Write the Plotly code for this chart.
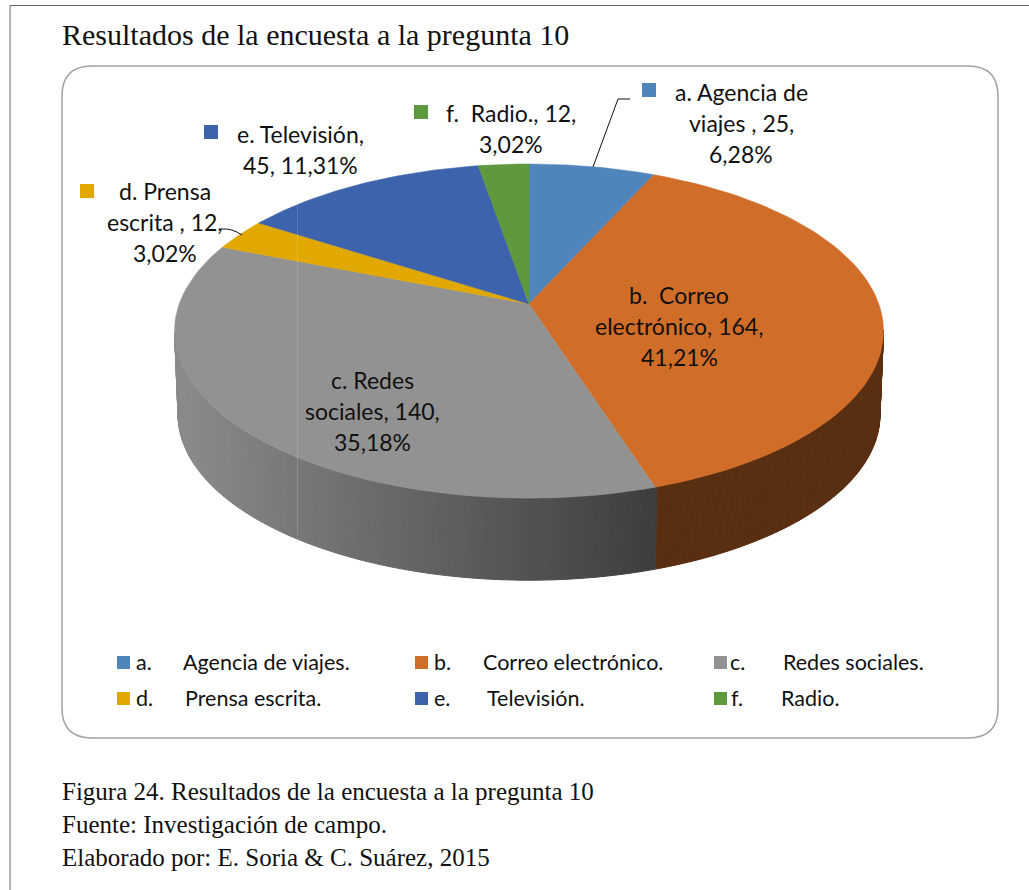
import numpy as np
import plotly.graph_objects as go

# data
categories = ["a", "b", "c", "d", "e", "f"]
values = [25, 164, 140, 12, 45, 12]
colors = ["#4F85BB", "#D06D28", "#929292", "#E0A800", "#3C63AB", "#5F993E"]

title = "Resultados de la encuesta a la pregunta 10"
caption = ["Figura 24. Resultados de la encuesta a la pregunta 10",
           "Fuente: Investigación de campo.",
           "Elaborado por: E. Soria & C. Suárez, 2015"]

# label lines, the number and percent get filled in from values
data_labels = [["a. Agencia de", "viajes , {v},", "{p}%"],
               ["b.  Correo", "electrónico, {v},", "{p}%"],
               ["c. Redes", "sociales, {v},", "{p}%"],
               ["d. Prensa", "escrita , {v},", "{p}%"],
               ["e. Televisión,", "{v}, {p}%"],
               ["f.  Radio., {v},", "{p}%"]]
legend_keys = ["a.", "b.", "c.", "d.", "e.", "f."]
legend_names = ["Agencia de viajes.", "Correo electrónico.", "Redes sociales.",
                "Prensa escrita.", "Televisión.", "Radio."]

# placement (pixels, the axes are 1:1 with the page)
label_centers = [(741, 92), (679, 295), (372, 380), (165, 191), (300, 134), (511, 113)]
label_steps = 31
label_swatches = [(649, 90), None, None, (87, 191), (211, 132), (421, 112)]
legend_swatch_x = [123.5, 421.5, 720.5, 123.5, 421.5, 720.5]
legend_key_x = [134, 432, 728, 134, 432, 729]
legend_name_x = [181, 481, 781, 183, 485, 779]
legend_y = [661.5, 661.5, 661.5, 697.5, 697.5, 697.5]

SANS = "Lato"
SERIF = "Liberation Serif"

# tilted-disc projection of the pie
CX, CY = 529.0, 304.0
A, B, K = 349.8, 162.7, 0.162
DEPTH, SHRINK = 84.0, 0.99

# the drawn 3d pie does not keep angles exactly, correction in degrees
warp_at = [0, 23, 171, 297, 308, 349, 360]
warp_by = [0, 1.6, -8.7, -5.9, -5.7, 1.2, 0]


def warp(theta):
    return theta + np.interp(theta, warp_at, warp_by)


def project(phi, lower=False):
    t = np.radians(phi)
    u, v = np.sin(t), np.cos(t)
    w = 1 + K * v
    s = SHRINK if lower else 1.0
    d = DEPTH if lower else 0.0
    return CX + s * A * u / w, CY + d - s * B * v / w


def shade(hex_color, f):
    rgb = [int(hex_color[i:i + 2], 16) for i in (1, 3, 5)]
    return "rgb({},{},{})".format(*[int(c * f) for c in rgb])


total = sum(values)
percents = [f"{v / total * 100:.2f}".replace(".", ",") for v in values]
cum = np.cumsum([0] + values) / total * 360
edges = warp(cum)

fig = go.Figure()

# side of the disc, thin strips for the gradient
grid = np.arange(99.0, 261.0, 0.75)
for p0, p1 in zip(grid[:-1], grid[1:]):
    mid = (p0 + p1) / 2
    idx = int(np.searchsorted(edges, mid)) - 1
    arc = np.array([p0, p1])
    xt, yt = project(arc)
    xb, yb = project(arc, lower=True)
    xm = project(mid)[0]
    col = shade(colors[idx], np.interp(xm, [180, 650], [0.95, 0.43]))
    fig.add_trace(go.Scatter(x=[xt[0], xt[1], xb[1], xb[0], xt[0]],
                             y=[yt[0], yt[1], yb[1], yb[0], yt[0]],
                             mode="lines", fill="toself", fillcolor=col,
                             line=dict(color=col, width=1),
                             hoverinfo="skip", showlegend=False))

# top face
for i, cat in enumerate(categories):
    arc = np.linspace(edges[i], edges[i + 1], 80)
    xs, ys = project(arc)
    fig.add_trace(go.Scatter(x=np.r_[CX, xs, CX], y=np.r_[CY, ys, CY],
                             mode="lines", fill="toself", fillcolor=colors[i],
                             line=dict(color=colors[i], width=0.5),
                             name=legend_names[i], hoverinfo="skip", showlegend=False))

# swatches, both for the data labels and the legend
for i, pos in enumerate(label_swatches):
    if pos is not None:
        fig.add_trace(go.Scatter(x=[pos[0]], y=[pos[1]], mode="markers",
                                 marker=dict(symbol="square", size=14, color=colors[i]),
                                 hoverinfo="skip", showlegend=False))
    fig.add_trace(go.Scatter(x=[legend_swatch_x[i]], y=[legend_y[i] + 1], mode="markers",
                             marker=dict(symbol="square", size=13, color=colors[i]),
                             hoverinfo="skip", showlegend=False))

annotations = []


def put(text, x, y, size, family, anchor="center", color="#111111"):
    annotations.append(dict(text=text, x=x, y=y, xref="x", yref="y", showarrow=False,
                            xanchor=anchor, yanchor="middle",
                            font=dict(size=size, family=family, color=color)))


put(title, 60, 34, 30, SERIF, "left")
for line, y in zip(caption, [791, 824, 857]):
    put(line, 60, y, 25, SERIF, "left")

for i, lines in enumerate(data_labels):
    cx, cy = label_centers[i]
    for j, line in enumerate(lines):
        put(line.format(v=values[i], p=percents[i]), cx, cy + j * label_steps, 23, SANS)

for i in range(len(categories)):
    put(legend_keys[i], legend_key_x[i], legend_y[i], 21.5, SANS, "left")
    put(legend_names[i], legend_name_x[i], legend_y[i], 21.5, SANS, "left")

shapes = [
    # page frame
    dict(type="line", x0=10, x1=1029, y0=5.5, y1=5.5, line=dict(color="#666666", width=1)),
    dict(type="line", x0=10, x1=10, y0=5.5, y1=890, line=dict(color="#666666", width=1)),
    # rounded chart area
    dict(type="path", path="M 92 66 L 968 66 Q 998 66 998 96 L 998 708 Q 998 738 968 738 "
                           "L 92 738 Q 62 738 62 708 L 62 96 Q 62 66 92 66 Z",
         line=dict(color="#A3A3A3", width=1.5), fillcolor="rgba(0,0,0,0)", layer="below"),
    # leader lines
    dict(type="path", path="M 630 99 L 618 99 L 593 167", line=dict(color="#111111", width=1)),
    dict(type="path", path="M 221 229 Q 232 228 242 235", line=dict(color="#111111", width=1)),
    # faint scan seam in the source image
    dict(type="line", x0=297.5, x1=297.5, y0=205, y1=535,
         line=dict(color="rgba(255,255,255,0.15)", width=1)),
]

fig.update_layout(width=1029, height=890, margin=dict(l=0, r=0, t=0, b=0),
                  paper_bgcolor="white", plot_bgcolor="white", showlegend=False,
                  annotations=annotations, shapes=shapes)
fig.update_xaxes(range=[0, 1029], visible=False, fixedrange=True)
fig.update_yaxes(range=[890, 0], visible=False, fixedrange=True)

fig.write_html("out.html", config=dict(displayModeBar=False),
               post_script="document.body.style.margin='0';document.body.style.overflow='hidden';")
